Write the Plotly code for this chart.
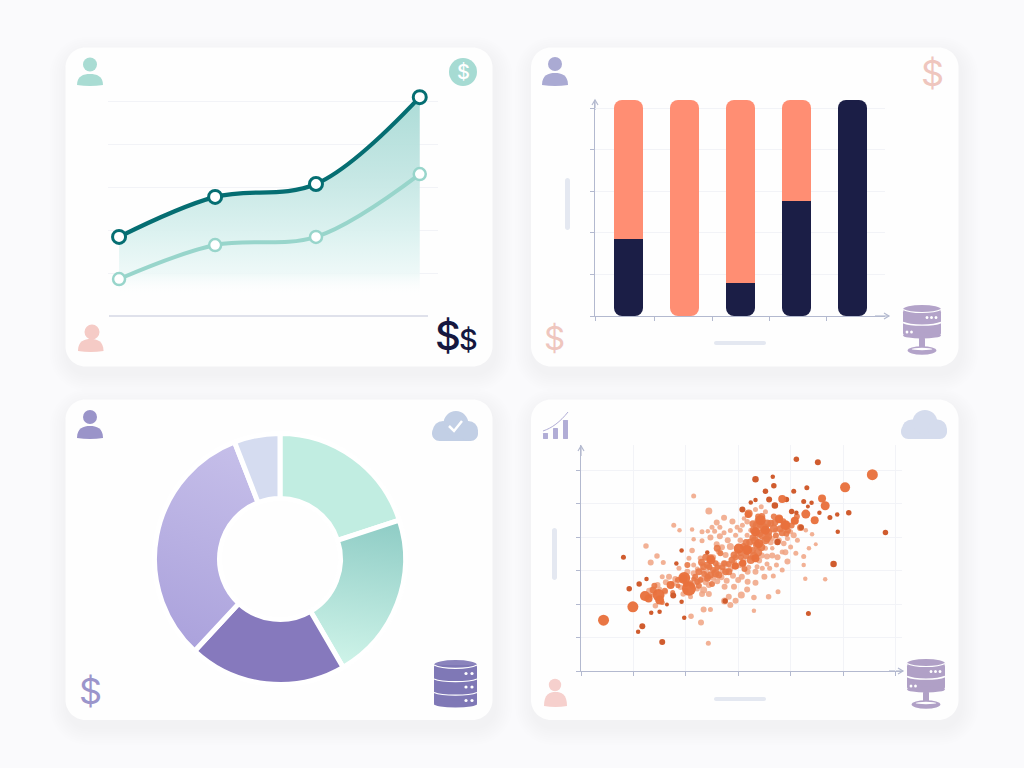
import plotly.graph_objects as go

# ---------- data ----------
line_x = [0.0, 1.0, 2.05, 3.13]
line_top = [1.84, 2.77, 3.07, 5.09]
line_low = [0.86, 1.65, 1.84, 3.30]

bar_cats = [1, 2, 3, 4, 5]
bar_total = [5.2, 5.2, 5.2, 5.2, 5.2]
bar_navy = [1.85, 0.0, 0.8, 2.78, 5.2]

donut_vals = [20.0, 21.6, 20.3, 32.2, 5.9]
donut_cols = ["#c1ede1", "#b0e2d8", "#8679bd", "#b9b1e2", "#d5dcf0"]

big_x = [0.43,0.99,1.22,1.48,1.50,1.29,2.06,1.97,1.71,3.01,3.17,3.39,3.33,5.56,5.04,4.29,4.46,4.66,4.60,3.84,4.08,3.78,3.90,3.43,3.52,3.33,3.19,2.48,2.94,3.09]
big_y = [1.52,1.92,2.24,2.27,2.12,2.17,2.46,2.78,2.57,3.66,3.62,3.81,3.37,5.87,5.49,4.69,4.51,4.94,5.16,5.14,4.49,4.54,4.36,4.51,4.21,4.16,4.68,3.32,3.14,3.22]
big_d = [11,11,10,12,9,8,14,12,8,10,10,9,8,11,10,9,8,9,8,8,8,8,10,10,9,9,7,9,7,7]

dark_x = [4.11,4.52,3.33,3.66,3.68,3.52,4.31,4.06,3.59,3.70,3.24,3.33,3.08,4.25,4.40,4.33,3.92,4.02,4.11,4.55,4.75,4.89,5.11,4.90,5.81,4.82,4.34,0.81,0.92,1.11,1.25,1.34,1.50,1.17,1.09,1.55,1.97,1.64,1.76,1.92,1.92,1.82,2.41,4.20,3.75,2.75]
dark_y = [6.33,6.24,5.73,5.81,5.54,5.37,5.48,5.37,5.13,4.95,5.04,5.11,4.83,5.07,5.03,4.92,5.13,4.77,4.73,4.73,4.59,4.68,4.73,4.16,4.14,3.20,1.72,3.40,2.46,2.60,2.75,1.74,1.77,1.34,1.17,0.87,1.59,1.99,2.26,2.07,3.60,3.21,3.54,4.29,3.86,2.09]
dark_d = [5.5,6,6.5,4.5,5.5,5.5,5,5,6,6.5,4.5,4.5,6,5,4.5,4,5.5,5.5,4.5,4.5,5,4.5,5.5,4.5,5.5,6.5,5,5,5.5,5.5,4.5,4.5,4.5,6,4.5,6,4.5,4,6,4.5,4.5,4.5,4.5,5.5,6.5,5.5]

mid_x = [2.47,2.57,2.34,2.41,2.63,2.76,2.88,3.17,3.36,3.52,3.24,3.30,3.08,2.95,2.82,3.40,3.49,3.30,3.40,3.20,3.78,3.90,3.68,3.84,3.55,4.08,4.19,1.96,2.60,2.66,2.41,2.57,2.73,2.25,2.18,2.03,2.92,3.04,2.47,2.22,2.09,3.62,3.45,3.28,3.58,3.72,3.15,1.38,1.60,1.85,
         3.35,3.42,3.50,3.58,3.28,3.38,3.46,3.55,3.22,3.32,3.44,3.15,3.27,3.10,3.38,3.70,3.80,3.86,3.95,4.02,2.30,2.38,2.45,2.52,2.60,2.35,2.42,2.50,2.28,2.70,2.82,2.95,2.15,2.25,2.00,1.85,1.75,1.40,1.55,1.32,3.68,3.92,4.12,3.05,3.12]
mid_y = [3.37,2.92,3.12,2.77,2.87,2.97,3.32,3.64,3.76,3.91,3.32,3.44,3.22,3.14,2.97,4.51,4.26,4.21,4.11,4.71,4.56,4.36,4.26,4.13,4.41,4.49,4.29,2.77,3.67,3.52,3.17,3.22,3.22,2.97,2.82,3.17,3.47,3.52,2.87,2.67,2.62,4.42,4.62,3.98,4.02,4.05,3.84,2.42,2.40,2.72,
         4.35,4.40,4.30,4.15,4.40,4.62,4.05,3.95,3.85,3.90,3.70,3.45,3.60,3.72,3.55,4.45,4.25,4.48,4.20,4.35,3.25,3.40,3.10,3.02,3.10,2.90,2.82,2.60,2.72,3.10,3.20,3.40,2.75,2.55,2.60,2.55,2.35,2.55,2.05,2.25,4.62,4.10,4.62,3.40,3.05]
mid_d = [8,8,7,7,7,7,7,8,8,8,8,8,7,7,7,9,9,8,8,8,8,8,8,7,8,7,7,8,7,6,7,6,6,7,6,6,7,6,7,6,6,7,7,7,7,6,7,7,6,6,
         8,8,8,7,7,6,8,7,7,8,8,7,7,7,8,7,7,6,6,6,7,7,6,6,6,6,6,6,6,6,6,6,5,6,6,5,5,6,5,5,6,6,6,6,6]

light_x = [1.77,1.88,2.12,2.44,2.59,2.73,2.89,2.31,2.42,2.55,2.73,2.15,2.31,2.47,2.65,2.80,2.95,3.04,3.08,1.24,2.12,1.45,1.33,1.57,2.06,2.28,2.59,2.69,2.85,2.98,2.76,2.63,2.52,2.31,2.15,2.03,1.87,2.15,1.68,1.55,1.46,1.35,1.77,1.61,1.42,2.44,2.34,2.22,2.44,2.31,2.09,2.34,2.47,2.85,2.74,2.95,2.82,3.06,3.17,3.30,3.58,3.76,3.30,2.74,2.92,3.07,3.18,3.33,3.50,3.67,3.84,3.73,3.60,3.46,3.33,3.18,3.36,3.04,3.55,3.75,3.94,4.10,4.25,4.25,4.35,4.48,4.13,4.29,4.41,4.00,3.84,3.65,3.87,3.52,4.06,3.94,3.78,4.28,4.66,3.17,3.11,3.24,3.17,3.04,3.33,3.65,3.71,4.00,3.44,3.52,3.33,2.29,2.43,2.10,2.15,2.30,2.38,2.52,2.60,2.68,2.78,2.90,3.00,2.40,2.55,2.70,2.85,2.62,2.75,2.92,2.45,2.30,2.22,3.10,3.25,3.40,3.55,3.20,3.45,3.65,3.62,3.90,1.80,1.90,2.00,2.12,2.20,1.62,1.95,1.40,1.50,1.30,2.85,2.98,2.50,2.65]
light_y = [4.36,4.21,4.23,4.78,4.44,4.58,4.47,4.16,4.18,4.18,4.13,3.94,3.89,3.99,4.03,3.91,4.06,4.21,4.36,3.74,3.60,3.44,3.24,3.24,3.37,3.37,3.79,3.70,3.72,3.57,3.47,3.57,3.40,3.02,3.17,2.97,3.07,2.92,2.82,2.82,2.57,2.42,2.62,2.37,1.95,2.57,2.42,2.45,2.30,2.30,2.22,1.84,1.84,1.97,2.09,2.10,2.22,2.27,2.44,2.20,2.22,2.37,1.80,2.52,2.52,2.82,2.67,2.64,2.82,2.84,3.02,3.17,3.07,3.07,2.97,2.97,3.12,3.17,3.42,3.40,3.27,3.52,3.42,3.17,3.67,3.79,3.91,4.21,4.09,3.71,3.56,3.67,3.81,3.67,4.06,3.96,3.91,2.76,2.74,4.46,4.56,4.21,4.06,3.91,3.81,3.96,4.21,4.16,4.91,4.76,4.83,1.45,0.83,1.64,5.23,2.75,2.65,2.78,2.68,2.80,2.70,2.85,2.72,2.95,2.95,3.00,3.05,3.15,3.20,3.25,3.12,3.20,3.05,3.30,3.40,3.30,3.20,3.10,3.45,3.45,3.85,3.55,2.75,2.50,2.40,2.55,2.65,2.65,2.30,2.35,2.45,2.40,4.20,4.30,4.30,4.30]
light_d = [5,4.5,4.5,7,6,6,6,5,4.5,5,5,4.5,5,6,6,6,5,5,5,5.5,5.5,5.5,6,5,5,5.5,6,6,7,6,6,6,6,5,5,6,5,6,6,5,6,6,5.5,5.5,5.5,6,7,5,6,6,5,6,5,6,7,6,6,7,6,5.5,5.5,5,4.5,6,6,6,6,6,6,5,5,5,5,5,6,6,5,6,6,6,6,5,5,4.5,4.5,4,5,4.5,4.5,5,5,4.5,5.5,5,6,5,5.5,4.5,4.5,5.5,4.5,5,5,5.5,5,5,5,5,5,5,5,6,5,5.5,5,6,6,6,6,6,6,6,6,6,6,6,6,7,7,6,6,5,5,6,6,6,5,5,6,6,6,6,6,5.5,6,6,6,6,5.5,6,5,6,5,5,5,5]

# ---------- helpers ----------
W, H = 1024, 768
fx = lambda p: p / W
fy = lambda p: 1 - p / H
def pt(x, y):
    return f"{fx(x):.5f},{fy(y):.5f}"
shapes = []
def path(d, fill=None, line=None, lw=0, opacity=None):
    s = dict(type="path", xref="paper", yref="paper", path=d, layer="below",
             fillcolor=fill if fill else "rgba(0,0,0,0)", line=dict(color=line or "rgba(0,0,0,0)", width=lw))
    if opacity is not None:
        s["opacity"] = opacity
    shapes.append(s)
def rrect(x0, y0, x1, y1, r, fill, opacity=None):
    k = r * 0.448
    d = (f"M{pt(x0+r,y0)} L{pt(x1-r,y0)} C{pt(x1-k,y0)} {pt(x1,y0+k)} {pt(x1,y0+r)} "
         f"L{pt(x1,y1-r)} C{pt(x1,y1-k)} {pt(x1-k,y1)} {pt(x1-r,y1)} "
         f"L{pt(x0+r,y1)} C{pt(x0+k,y1)} {pt(x0,y1-k)} {pt(x0,y1-r)} "
         f"L{pt(x0,y0+r)} C{pt(x0,y0+k)} {pt(x0+k,y0)} {pt(x0+r,y0)} Z")
    path(d, fill, opacity=opacity)
def ell(cx, cy, rx, ry, fill):
    shapes.append(dict(type="circle", xref="paper", yref="paper", layer="below",
                       x0=fx(cx-rx), x1=fx(cx+rx), y0=fy(cy+ry), y1=fy(cy-ry),
                       fillcolor=fill, line=dict(width=0)))
def person(cx, head_y, head_r, x0, x1, y0, y1, col):
    ell(cx, head_y, head_r, head_r, col)
    w = (x1 - x0) * 0.5
    d = (f"M{pt(x0,y1-1)} C{pt(x0,y0+2)} {pt(x0+w*0.5,y0)} {pt(x0+w,y0)} "
         f"C{pt(x1-w*0.5,y0)} {pt(x1,y0+2)} {pt(x1,y1-1)} Q{pt(x0+w,y1+1)} {pt(x0,y1-1)} Z")
    path(d, col)
def cloud(x0, y0, x1, y1, col):
    w, h = x1 - x0, y1 - y0
    rrect(x0, y0 + h * 0.48, x1, y1, h * 0.25, col)
    ell(x0 + w * 0.24, y0 + h * 0.66, w * 0.22, h * 0.33, col)
    ell(x0 + w * 0.52, y0 + h * 0.42, w * 0.27, h * 0.42, col)
    ell(x0 + w * 0.79, y0 + h * 0.66, w * 0.21, h * 0.33, col)
def bow(x0, x1, y, depth, col="#ffffff", lw=1.2):
    dx = (x1 - x0) * 0.2
    path(f"M{pt(x0,y)} C{pt(x0+dx,y+depth)} {pt(x1-dx,y+depth)} {pt(x1,y)}", None, col, lw)
def server(x0, x1, y_top, col):
    cx = (x0 + x1) / 2
    rx = (x1 - x0) / 2
    ell(cx, y_top + 4.5, rx, 4.5, col)
    rrect(x0, y_top + 4.5, x1, y_top + 31, 3, col)
    ell(cx, y_top + 30.5, rx, 3, col)
    bow(x0, x1, y_top + 4.5, 4)
    bow(x0, x1, y_top + 17.5, 3.5, lw=1.4)
    rrect(cx - 3, y_top + 33, cx + 3, y_top + 43, 0.5, col)
    ell(cx, y_top + 45.5, rx * 0.76, 4.2, col)
    ell(cx, y_top + 44, rx * 0.55, 1.2, "#ffffff")
    for dx in (14, 9.5, 5):
        ell(x1 - dx, y_top + 12.5, 1.4, 1.6, "#ffffff")
    for dx in (4, 8.5):
        ell(x0 + dx, y_top + 27, 1.4, 1.6, "#ffffff")

# ---------- page and cards ----------
BG = "#fafafc"
cards = [(65.5, 47.5, 492.5, 366.5), (531, 47.5, 958.5, 366.5), (65.5, 399.5, 492.5, 720), (531, 399.5, 958.5, 720)]
for c in cards:
    for i in range(8, 0, -1):
        e = i * 2.2
        rrect(c[0]-e+2, c[1]-e+7, c[2]+e+2, c[3]+e+7, 20+e, "#7c7cb0", opacity=0.009)
for c in cards:
    rrect(c[0], c[1], c[2], c[3], 20, "#fefefe")

# pills
PILL = "#e4e8f1"
rrect(565, 178, 570, 230, 2.5, PILL)
rrect(714, 341, 766, 345, 2, PILL)
rrect(552, 528, 557, 580, 2.5, PILL)
rrect(714, 697, 766, 701, 2, PILL)

# icons
person(90, 64.5, 7, 77, 103, 74, 86, "#a9dcd3")
person(92, 332, 7.5, 78, 103.5, 339, 352, "#f5cbc6")
person(555, 64, 7, 542, 568, 73, 86, "#aaaad3")
person(90, 417, 7, 77, 103, 426, 439, "#9a94c9")
person(555, 685, 6.2, 544, 567, 692, 707, "#f6d0cd")
ell(463, 72, 14, 14, "#a6dbd3")
cloud(432, 411, 478, 441, "#c2cfe5")
path(f"M{pt(449,426)} L{pt(454,431)} L{pt(462,421)}", None, "#ffffff", 2.5)
cloud(901, 410, 947, 439, "#d5dced")
server(903, 941, 305, "#b3a3c9")
server(907, 945, 659, "#b0a0c6")
# stacked database, card 3
DB = "#7f78b6"
ell(455.5, 665, 21.5, 5, "#8a83bc")
rrect(434, 665, 477, 705, 2, DB)
ell(455.5, 704, 21.5, 3.5, DB)
bow(434, 477, 665, 4.5)
bow(434, 477, 679, 3.5)
bow(434, 477, 692.5, 3.5)
for yy in (673.5, 687, 700.5):
    ell(466, yy, 1.6, 1.6, "#ffffff")
    ell(472, yy, 1.6, 1.6, "#ffffff")
# mini bar icon, card 4
MB = "#b1add6"
rrect(543, 433, 548, 439, 0.5, MB)
rrect(553, 428, 558, 439, 0.5, MB)
rrect(563, 420, 568, 439, 0.5, MB)
path(f"M{pt(543,431)} C{pt(552,428)} {pt(560,422)} {pt(568,412)}", None, MB, 1)

# axis arrows and baseline
AX = "#b3b9cf"
path(f"M{pt(109,316)} L{pt(428,316)}", None, "#bfc3d7", 1.2)
for (x, y) in ((595, 100), (581, 446)):
    path(f"M{pt(x-3,y+5)} L{pt(x,y)} L{pt(x+3,y+5)}", None, AX, 1.2)
    path(f"M{pt(x,y)} L{pt(x,y+10)}", None, AX, 1.2)
for (x, y) in ((889, 316), (903, 671)):
    path(f"M{pt(x-5,y-3)} L{pt(x,y)} L{pt(x-5,y+3)}", None, AX, 1.2)
    path(f"M{pt(x-14,y)} L{pt(x,y)}", None, AX, 1.2)

# ---------- figure ----------
fig = go.Figure()
GRID = "#f2f3f7"
def dom(a, b):
    return [a / W, b / W]
def vdom(top, bottom):
    return [1 - bottom / H, 1 - top / H]

# card 1: area first, then both lines above it
fig.add_trace(go.Scatter(x=line_x, y=line_top, xaxis="x", yaxis="y", mode="lines",
    line=dict(color="rgba(0,0,0,0)", width=0, shape="spline"), fill="tozeroy",
    fillgradient=dict(type="vertical", start=0.45, stop=5.09,
        colorscale=[[0, "rgba(255,255,255,0)"], [0.12, "rgba(236,248,247,0.9)"], [0.3, "rgba(220,242,240,0.95)"],
                    [0.6, "rgba(195,230,227,0.95)"], [1, "rgba(168,218,213,0.95)"]]),
    showlegend=False, cliponaxis=False))
fig.add_trace(go.Scatter(x=line_x, y=line_low, xaxis="x", yaxis="y", mode="lines+markers",
    line=dict(color="#98d5cb", width=4, shape="spline"), cliponaxis=False,
    marker=dict(size=12, color="#ffffff", opacity=1, line=dict(color="#98d5cb", width=2.5)), showlegend=False))
fig.add_trace(go.Scatter(x=line_x, y=line_top, xaxis="x", yaxis="y", mode="lines+markers",
    line=dict(color="#056e72", width=4.2, shape="spline"), cliponaxis=False,
    marker=dict(size=13, color="#ffffff", opacity=1, line=dict(color="#056e72", width=3)), showlegend=False))

# card 2: rounded bars with a flat join between coral and navy
CORAL, NAVY = "#ff8e73", "#1b1e46"
CAP = 0.3
is_split = [0 < n < t for n, t in zip(bar_navy, bar_total)]
top_base = [n - 0.25 if s else 0 for n, s in zip(bar_navy, is_split)]
top_cols = [NAVY if n >= t else CORAL for n, t in zip(bar_navy, bar_total)]
split_cats = [c for c, s in zip(bar_cats, is_split) if s]
split_navy = [n for n, s in zip(bar_navy, is_split) if s]
fig.add_trace(go.Bar(x=bar_cats, y=[t - b for t, b in zip(bar_total, top_base)], base=top_base,
    xaxis="x2", yaxis="y2", width=0.525,
    marker=dict(color=top_cols, cornerradius=8, line=dict(width=0)), showlegend=False))
fig.add_trace(go.Bar(x=split_cats, y=split_navy, base=[0] * len(split_cats), xaxis="x2", yaxis="y2", width=0.525,
    marker=dict(color=NAVY, cornerradius=8, line=dict(width=0)), showlegend=False))
fig.add_trace(go.Bar(x=split_cats, y=[CAP] * len(split_cats), base=[n - CAP for n in split_navy],
    xaxis="x2", yaxis="y2", width=0.525,
    marker=dict(color=NAVY, line=dict(width=0)), showlegend=False))

# card 3: donut
fig.add_trace(go.Pie(values=donut_vals, marker=dict(colors=donut_cols, line=dict(color="#ffffff", width=5)),
    hole=0.482, sort=False, direction="clockwise", rotation=0, textinfo="none", showlegend=False,
    domain=dict(x=dom(154.5, 405.5), y=vdom(433.5, 684.5))))

# card 4: scatter
for xs, ys, ds, col in ((light_x, light_y, light_d, "rgba(240,163,130,0.85)"),
                        (mid_x, mid_y, mid_d, "rgba(232,120,70,0.9)"),
                        (dark_x, dark_y, dark_d, "rgba(208,92,46,1)"),
                        (big_x, big_y, big_d, "rgba(232,112,60,0.96)")):
    fig.add_trace(go.Scatter(x=xs, y=ys, xaxis="x3", yaxis="y3", mode="markers",
        marker=dict(size=ds, color=col, opacity=1, line=dict(width=0)), showlegend=False))

hidden = dict(showgrid=False, zeroline=False, showticklabels=False, showline=False, ticks="", fixedrange=True)
fig.update_layout(
    width=W, height=H, margin=dict(l=0, r=0, t=0, b=0), paper_bgcolor=BG, plot_bgcolor="rgba(0,0,0,0)",
    barmode="overlay", bargap=0, shapes=shapes,
    font=dict(family="Liberation Sans"),
    xaxis=dict(domain=dom(108, 438), range=[-0.115, 3.32], **hidden),
    yaxis=dict(domain=vdom(92.4, 316), range=[0, 5.2], showgrid=True, gridcolor=GRID, gridwidth=1,
               tickvals=[1, 2, 3, 4, 5], zeroline=False, showticklabels=False, ticks="", fixedrange=True),
    xaxis2=dict(domain=dom(595, 885), range=[0.402, 5.58], tickvals=[0.402, 1.473, 2.491, 3.509, 4.527],
                showgrid=False, zeroline=False, showticklabels=False, ticks="outside", ticklen=4, tickcolor=AX,
                showline=True, linecolor=AX, linewidth=1.2, fixedrange=True),
    yaxis2=dict(domain=vdom(100, 316), range=[0, 5.2], tickvals=[0, 1, 2, 3, 4, 5],
                showgrid=True, gridcolor=GRID, zeroline=False, showticklabels=False, ticks="outside", ticklen=4,
                tickcolor=AX, showline=True, linecolor=AX, linewidth=1.2, fixedrange=True),
    xaxis3=dict(domain=dom(581, 902), range=[0, 6.126], tickvals=[0, 1, 2, 3, 4, 5, 6],
                showgrid=True, gridcolor=GRID, zeroline=False, showticklabels=False, ticks="outside", ticklen=4,
                tickcolor=AX, showline=True, linecolor=AX, linewidth=1.2, anchor="y3", fixedrange=True),
    yaxis3=dict(domain=vdom(445, 671), range=[0, 6.756], tickvals=[0, 1, 2, 3, 4, 5, 6],
                showgrid=True, gridcolor=GRID, zeroline=False, showticklabels=False, ticks="outside", ticklen=4,
                tickcolor=AX, showline=True, linecolor=AX, linewidth=1.2, anchor="x3", fixedrange=True),
)
fig.update_layout(xaxis2_anchor="y2", yaxis2_anchor="x2", xaxis_anchor="y", yaxis_anchor="x")

def dollar(x, y, size, col, weight=400):
    fig.add_annotation(x=fx(x), y=fy(y), xref="paper", yref="paper", text="$", showarrow=False,
                       xanchor="center", yanchor="middle", font=dict(size=size, color=col, family="Inter", weight=weight))
dollar(463, 72, 20, "#ffffff", 500)
dollar(447.5, 335, 40, "#15173f", 500)
dollar(468, 340, 29, "#15173f", 500)
dollar(932.5, 73, 36, "#efc6be")
dollar(554, 338, 33, "#efc6be")
dollar(90, 691, 36, "#9b95cb")

script = """
document.body.style.margin='0';document.body.style.overflow='hidden';document.body.style.background='%s';
var gd=document.getElementById('{plot_id}');
gd.querySelectorAll('.bars path').forEach(function(p){p.style.setProperty('shape-rendering','geometricPrecision');});
var svg=gd.querySelector('.main-svg');var ns='http://www.w3.org/2000/svg';
var defs=svg.querySelector('defs')||svg.insertBefore(document.createElementNS(ns,'defs'),svg.firstChild);
function grad(id,a,b,x1,y1,x2,y2){var g=document.createElementNS(ns,'linearGradient');g.setAttribute('id',id);
g.setAttribute('x1',x1);g.setAttribute('y1',y1);g.setAttribute('x2',x2);g.setAttribute('y2',y2);
[[0,a],[1,b]].forEach(function(s){var e=document.createElementNS(ns,'stop');e.setAttribute('offset',s[0]);e.setAttribute('stop-color',s[1]);g.appendChild(e);});
defs.appendChild(g);}
grad('sliceTeal','#90cdc6','#cff4e9',0.55,0,0.45,1);
grad('slicePurple','#c5bee9','#aba2dc',0.6,0,0.4,1);
var sl=gd.querySelectorAll('.slice path.surface');
if(sl[1])sl[1].style.fill='url(#sliceTeal)';
if(sl[3])sl[3].style.fill='url(#slicePurple)';
""" % BG
fig.write_html("out.html", post_script=script, config=dict(displayModeBar=False))
